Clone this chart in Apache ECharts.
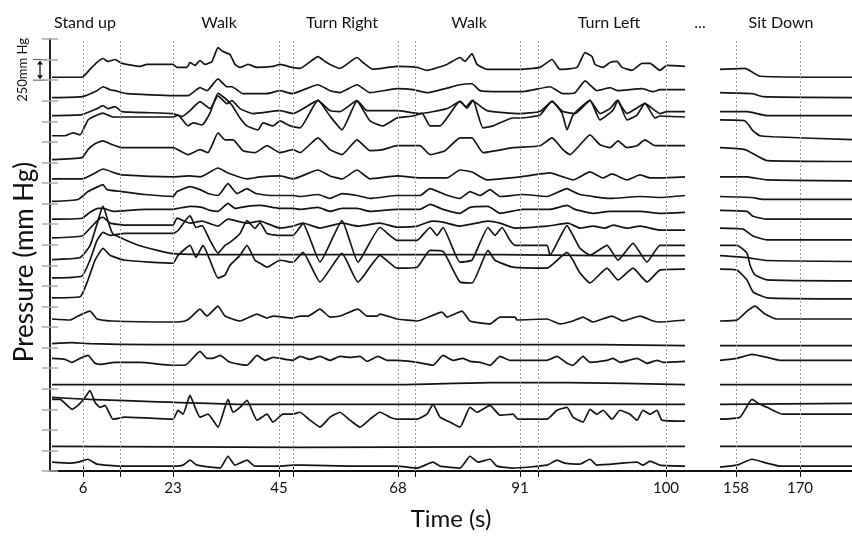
<!DOCTYPE html>
<html>
<head>
<meta charset="utf-8">
<script src="https://cdn.jsdelivr.net/npm/echarts@6/dist/echarts.min.js"></script>
<style>
html, body { margin: 0; padding: 0; background: #fff; }
#chart { width: 852px; height: 536px; }
</style>
</head>
<body>
<div id="chart"></div>
<script>
// display time axis (s); the record is cut between the walk and the sit-down part
var tickTimes = [6.6, 24.6, 45.8, 69.6, 94, 123.2, 137.2, 150];
var tickLabels = ['6', '23', '45', '68', '91', '100', '158', '170'];
var segmentEdges = [6.6, 14, 24.6, 45.8, 48.6, 69.6, 73, 94, 97.6, 123.2, 137.2, 150];
var phaseTimes = [7, 33.8, 58.4, 83.8, 111.8, 130, 146.2];
var phaseNames = ['Stand up', 'Walk', 'Turn Right', 'Walk', 'Turn Left', '...', 'Sit Down'];

// zero level of each sensor channel, mm Hg (stacked from the bottom)
var channelOffsets = [4785, 4550, 4320, 4050, 3785, 3550, 3300, 3060, 2820, 2570,
    2335, 2105, 1835, 1535, 1345, 1050, 810, 630, 300, 95];

// pressure of each channel above its zero, [time, mm Hg]; null = recording gap
var p01 = [[0.4,0],[6.4,0],[8,96],[9.4,180],[10.6,228],[11.6,192],[13,216],[14.4,168],[18,132],[19.4,156],[24.6,156],[25.4,120],[27.4,120],[28,180],[29,144],[30,204],[31,156],[32.4,192],[33.6,360],[34.6,312],[36,276],[37,156],[38,120],[39.6,156],[41.4,120],[44.6,132],[46,156],[48.4,120],[50,108],[53.6,252],[55,192],[56,156],[58,108],[61.4,240],[62.6,180],[64.6,96],[69.4,132],[73.4,120],[75.4,84],[79.4,156],[82,240],[83,192],[84.4,288],[85.4,156],[87.4,96],[94,96],[98,120],[100.4,216],[102,96],[105.4,120],[107,300],[108.4,252],[109,156],[110.6,120],[112,180],[113.4,192],[114.4,120],[116.4,84],[118.4,168],[120,168],[122,84],[123.4,144],[127,132], null, [134,96],[139,108],[142,12],[160.4,0]];
var p02 = [[0.4,-12],[6.4,0],[9.4,72],[10.6,120],[12,84],[13,72],[15.4,36],[24.6,12],[27.6,12],[30,108],[31.4,72],[33.6,216],[35.4,120],[36.4,120],[38.6,36],[43.4,36],[46,72],[48.4,36],[53.6,144],[56,72],[58,48],[61.4,144],[64,48],[69.4,96],[72.6,84],[75.4,48],[82,144],[84.4,156],[86,72],[90,60],[94.6,60],[100,120],[102.6,36],[105,48],[107,192],[109.4,72],[112,108],[113.6,72],[118.4,96],[120.6,60],[122,84],[127,84], null, [134,48],[140.4,36],[142.6,0],[160.4,-12]];
var p03 = [[0.4,0],[6.4,12],[9.4,84],[10.6,120],[11.6,84],[13,108],[14.4,48],[24.6,24],[26.4,-12],[28,60],[30,168],[32,84],[33.6,240],[35.4,144],[36.4,180],[38,84],[40.6,24],[46,60],[48.6,24],[53.6,180],[56,60],[58,48],[61.4,180],[63.4,60],[69.4,60],[74,24],[79.4,84],[82,168],[83.2,108],[84.4,180],[87.4,60],[94,24],[98,48],[100.4,168],[102.6,48],[105,24],[108,180],[110,24],[112,84],[113.4,180],[115.4,24],[119,144],[122,24],[123.4,48],[127,48], null, [134,48],[139.4,48],[143.4,0],[160.4,0]];
var p04 = [[0.4,24],[3,24],[4.6,60],[6,36],[7.6,216],[9,264],[10.6,300],[12.6,252],[24.6,252],[25.6,276],[27.6,144],[28.6,180],[30.4,156],[32,300],[33.6,540],[35,480],[36.4,396],[38,240],[39.4,144],[41.6,96],[42.6,180],[44.6,144],[46,204],[48,144],[50,120],[53.6,456],[56,264],[58.4,96],[61.4,444],[64,204],[66.6,144],[69.4,240],[72.6,264],[74.4,300],[76,144],[78,144],[82,444],[83.4,360],[84.6,456],[86.6,120],[88.6,144],[92.6,240],[94,240],[98,276],[100.4,444],[102.4,300],[103.4,96],[104.6,276],[106,360],[108,456],[110,216],[112.6,336],[113.6,456],[115.4,216],[117.4,276],[119,420],[121,240],[122,264],[127,252], null, [134,216],[139,204],[140.6,84],[142,24],[144.6,12],[160.4,-24]];
var p05 = [[0.4,0],[6.4,24],[7.6,120],[9,192],[10.6,228],[12,192],[14.4,144],[24.6,144],[27.6,60],[30,120],[31.6,84],[33.6,324],[35,240],[36.6,240],[38.6,108],[41,84],[43.4,168],[46,84],[48.6,120],[50,84],[53.6,264],[56,120],[58.4,60],[61.4,240],[64,108],[66.6,120],[69.4,168],[74,168],[76,60],[79,108],[82,264],[84.4,264],[86.6,84],[92.6,144],[98,168],[100.4,264],[102.6,120],[104,60],[106,180],[108,300],[110,180],[112,144],[113.6,228],[115.4,144],[117.4,168],[119,240],[121,168],[127,168], null, [134,144],[139,120],[142,24],[143.4,-12],[160.4,-24]];
var p06 = [[0.4,0],[6.4,0],[9,72],[10.6,120],[13,72],[14.4,48],[24.6,24],[28,36],[30,24],[33.6,132],[35.6,72],[39.4,0],[42,24],[46,36],[48.6,0],[53.6,108],[56,36],[58.4,0],[61.4,108],[64,0],[69.4,36],[74,12],[79.4,12],[82,108],[84.4,84],[87.4,-12],[94,24],[100,72],[102.6,24],[104.6,-12],[108,84],[110.6,12],[112.4,60],[115.4,-12],[118,48],[120,12],[122,12],[127,24], null, [134,24],[139.4,24],[143.4,-12],[160.4,-24]];
var p07 = [[0.4,-24],[5.6,0],[7.6,96],[9.6,156],[10.6,180],[11.4,120],[14.4,96],[19,60],[24.6,36],[25.4,96],[28,156],[30,120],[31.6,72],[33.6,48],[35.6,192],[37.4,72],[39.4,132],[41.2,72],[44,48],[48.6,48],[50,36],[53.6,60],[56,12],[58.4,72],[61.4,48],[64,12],[69.4,48],[74,48],[76,132],[79,60],[82,12],[84,96],[86,48],[88,120],[90,36],[94.6,60],[99.4,36],[103.4,132],[104.6,96],[106,60],[112,12],[118,36],[122,24],[127,48], null, [134,36],[140.4,24],[142.6,0],[160.4,0]];
var p08 = [[0.4,0],[6.4,12],[8,84],[9.6,132],[10.6,132],[12.6,96],[19,120],[24.6,120],[25.6,132],[28,156],[30.4,144],[32,108],[33.6,96],[35.6,192],[37,132],[39.4,156],[42,168],[46,132],[48.6,132],[50,120],[53.6,144],[56,96],[58.4,132],[61.4,132],[64,96],[69.4,120],[74,120],[76,180],[78.6,120],[82,72],[84,144],[87.6,156],[90,72],[94.6,120],[100,120],[103.4,168],[105,120],[108.6,72],[112,96],[118,96],[122,72],[127,84], null, [134,108],[139.4,96],[140.6,36],[143.4,0],[160.4,0]];
var p09 = [[0.4,12],[6.4,36],[8.4,156],[10,252],[10.6,264],[12,192],[15,168],[24.6,168],[25.4,252],[28,192],[30.4,216],[33.6,156],[35.6,240],[39.4,192],[42,216],[46,132],[48.6,156],[50.6,192],[54,132],[58.4,192],[61.6,156],[66,192],[69.4,144],[73.4,156],[76.4,216],[78.6,204],[82,156],[87.6,216],[90,192],[93,132],[99.4,156],[103.6,192],[106,132],[108.6,156],[111,132],[112.6,168],[115.4,132],[118,156],[122,108],[127,108], null, [134,132],[138.6,120],[140.6,36],[143.4,-12],[160.4,-12]];
var p10 = [[0.4,0],[6,24],[8,168],[9.4,432],[10.6,648],[11.6,468],[12.6,312],[18,168],[24.6,72],[36,60],[50,60],[70,60],[90,60],[110,48],[127,48], null, [134,48],[139.4,24],[143.4,-12],[160.4,-24]];
var p11 = [[0.4,12],[6.4,36],[8,228],[9.4,468],[10.6,564],[12,528],[15,552],[24.6,552],[25.6,588],[28,768],[29.2,624],[30.4,648],[32,468],[33.6,312],[35,408],[36,444],[38,552],[39.4,708],[41,612],[42,684],[43.4,552],[46,528],[48.6,528],[50.6,672],[54,204],[58.4,708],[61.6,204],[66,624],[69.4,468],[73.4,468],[76,624],[77.4,528],[78.6,624],[82,204],[84.4,228],[87.6,624],[89,528],[90.4,624],[92,468],[93,408],[99.4,408],[100,288],[103.4,648],[104.6,528],[106,372],[108,288],[111.4,408],[113.6,228],[116.6,432],[119.4,204],[122,408],[127,408], null, [134,408],[137.4,408],[139.4,312],[140,168],[141,48],[143.4,-12],[160.4,-24]];
var p12 = [[0.4,0],[6,12],[7.6,216],[9,456],[10.6,600],[12,516],[15,456],[24.6,420],[25.6,516],[28,636],[29.2,492],[30.6,636],[32,456],[33.6,240],[35,276],[36,396],[38,516],[39.4,636],[41,456],[42,420],[43.4,372],[46,456],[48.6,432],[50.6,552],[54,192],[58.4,540],[61.6,192],[66,516],[69.4,360],[73.4,372],[76,576],[78.6,564],[82,192],[84.4,180],[87.6,576],[89,456],[92.6,372],[99.4,360],[103.4,552],[104.6,456],[106,300],[108,180],[111.4,360],[113.6,216],[116.6,360],[119.4,192],[122,336],[127,348], null, [134,348],[137.4,336],[139.4,216],[140.6,72],[143.4,0],[160.4,-12]];
var p13 = [[0.4,12],[4,0],[5.6,48],[8,108],[9.4,12],[12.4,-12],[24.6,-24],[27,-12],[28,24],[30,132],[31.4,48],[33.6,168],[35,48],[38,-12],[41.4,72],[43.4,24],[44.6,48],[48.6,24],[50,48],[51.6,48],[54,132],[56,36],[58,48],[61.6,132],[63.4,48],[65.4,48],[66,72],[69.4,12],[73.4,-12],[78.4,96],[79.4,36],[82.4,108],[84,-12],[88,-48],[90,36],[93,36],[93.4,0],[99.4,12],[102,-48],[104.6,-12],[106.6,36],[108.6,-24],[112.4,48],[114.6,-12],[118,48],[120.6,-12],[122,-24],[127,0], null, [134,-12],[137.4,0],[139.4,108],[141,168],[143,72],[145.4,12],[160.4,12]];
var p14 = [[0.4,12],[4.4,24],[8,12],[20,0],[50,0],[80,0],[110,0],[127,-12], null, [134,-12],[160.4,-12]];
var p15 = [[0.4,24],[3,12],[4.4,-24],[6,24],[7.6,60],[9,-36],[10,-48],[13,-24],[18,-24],[24.6,-60],[27,-60],[30,108],[31.4,24],[32.6,24],[34,60],[36,-24],[39.4,-60],[41.4,60],[43,0],[44.6,36],[48.6,0],[50,48],[52,12],[54,48],[56,0],[58,48],[60,36],[62,48],[63.4,-12],[65.6,48],[67.4,0],[69.4,0],[73.4,-24],[76.6,-60],[78.6,60],[80.6,0],[82.6,24],[84,-12],[86,-24],[88,-60],[90,48],[92,0],[94,0],[99.4,0],[101.4,48],[103.4,-36],[104.6,-60],[106.6,48],[108,-24],[111.4,0],[112.6,24],[114,-24],[117.4,24],[119.4,-36],[121.4,0],[122.6,-24],[127,-12], null, [134,0],[137.4,24],[140.4,72],[143.4,36],[146,0],[160.4,0]];
var p16 = [[0.4,0],[30,0],[70,0],[88,24],[103.4,24],[127,0], null, [134,0],[160.4,0]];
var p17 = [[0.4,84],[8,60],[39,0],[70,0],[127,0], null, [134,0],[160.4,12]];
var p18 = [[0.4,240],[2,240],[4.4,120],[5.6,168],[7,264],[8,348],[9,204],[10,144],[11,168],[12.6,0],[15,24],[24.6,0],[25.6,108],[26.6,60],[28,288],[29,144],[30,24],[31.6,60],[33.6,-96],[35.6,240],[36.6,84],[38,144],[39.4,228],[41.4,-12],[43.4,60],[44.6,-36],[46.6,60],[48.6,60],[50,84],[52,-12],[54,-96],[56,24],[58,84],[60,-12],[62,-96],[64,0],[66,84],[68,24],[69.4,0],[73.4,0],[75.4,60],[76.6,180],[78,24],[80,-36],[82,-96],[84,144],[85.4,84],[88,168],[90,48],[92.6,60],[93.6,0],[99.4,0],[101.4,108],[103.4,144],[104.6,24],[106.6,-36],[108,120],[109.4,60],[110.6,108],[112.4,0],[114,108],[116,60],[117.4,-12],[118.6,108],[120,60],[121.4,108],[122.4,-12],[127,-24], null, [134,0],[138,24],[140.4,240],[142,180],[143.4,144],[146.6,60],[160.4,60]];
var p19 = [[0.4,0],[50,-12],[127,0], null, [134,0],[160.4,0]];
var p20 = [[0.4,12],[4,0],[5.6,12],[7.6,48],[9.4,-12],[14,-36],[24.6,-36],[26.6,-24],[28,36],[29.4,-24],[34,-60],[35.6,84],[37,-24],[39.4,36],[41,-36],[46,-36],[48.6,-24],[50.6,-24],[60,-36],[69.4,-36],[73.4,-60],[76.6,12],[78,-36],[82,-60],[84,84],[85.6,12],[88,48],[89.4,-36],[92.6,-60],[99.4,-24],[101.4,36],[103,0],[106,-12],[108,48],[109.4,-24],[117.4,12],[118.6,-24],[120,24],[122,-24],[127,-36], null, [134,-48],[137.4,-24],[140.4,48],[143.4,0],[146,-36],[160.4,-36]];

var channels = [p01, p02, p03, p04, p05, p06, p07, p08, p09, p10,
    p11, p12, p13, p14, p15, p16, p17, p18, p19, p20];

var chart = echarts.init(document.getElementById('chart'));

function lineSeries(data) {
    return {
        type: 'line',
        data: data,
        showSymbol: false,
        symbol: 'none',
        smooth: 0.15,
        silent: true,
        animation: false,
        lineStyle: { color: '#151515', width: 1.7 }
    };
}

var series = [];
channels.forEach(function (pts, c) {
    var seg = [];
    pts.forEach(function (p) {
        if (p === null) {
            series.push(lineSeries(seg));
            seg = [];
        } else {
            seg.push([p[0], channelOffsets[c] + p[1]]);
        }
    });
    if (seg.length) series.push(lineSeries(seg));
});

// dotted markers of the phase boundaries
series[0].markLine = {
    silent: true,
    symbol: 'none',
    label: { show: false },
    lineStyle: { color: '#9a9a9a', type: [2, 2], width: 1 },
    data: segmentEdges.map(function (v) { return { xAxis: v }; })
};

var option = {
    animation: false,
    textStyle: { fontFamily: 'Lato' },
    grid: { left: 50, right: 0, top: 39, bottom: 56 },
    xAxis: [{
        type: 'value',
        min: 0,
        max: 160.4,
        position: 'bottom',
        axisLine: { lineStyle: { color: '#111', width: 2 } },
        axisTick: { inside: true, length: 6, customValues: segmentEdges, lineStyle: { color: '#111', width: 1 } },
        axisLabel: {
            customValues: tickTimes,
            margin: 10,
            fontSize: 15,
            color: '#111',
            formatter: function (v) { return tickLabels[tickTimes.indexOf(v)]; }
        },
        splitLine: { show: false },
        name: 'Time (s)',
        nameLocation: 'middle',
        nameGap: 36,
        nameTextStyle: { fontSize: 24, color: '#111' }
    }, {
        type: 'value',
        min: 0,
        max: 160.4,
        position: 'top',
        axisLine: { lineStyle: { color: '#111', width: 2 } },
        axisTick: { inside: true, length: 6, customValues: segmentEdges, lineStyle: { color: '#111', width: 1 } },
        axisLabel: {
            customValues: phaseTimes,
            margin: 8,
            fontSize: 16,
            color: '#111',
            formatter: function (v) { return phaseNames[phaseTimes.indexOf(v)]; }
        },
        splitLine: { show: false }
    }],
    yAxis: [{
        type: 'value',
        min: 0,
        max: 5250,
        interval: 250,
        position: 'left',
        axisLine: { show: true, lineStyle: { color: '#222', width: 2 } },
        axisTick: { show: true, inside: true, length: 8, lineStyle: { color: '#aaa', width: 1.5 } },
        axisLabel: { show: false },
        splitLine: { show: false },
        name: 'Pressure (mm Hg)',
        nameLocation: 'middle',
        nameGap: 12,
        nameTextStyle: { fontSize: 26, color: '#111', padding: [0, 14, 0, 0] }
    }, {
        type: 'value',
        min: 0,
        max: 5250,
        interval: 250,
        position: 'right',
        axisLine: { show: false },
        axisTick: { show: true, inside: true, length: 8, lineStyle: { color: '#aaa', width: 1.5 } },
        axisLabel: { show: false },
        splitLine: { show: false }
    }],
    series: series
};
chart.setOption(option);

// 250 mm Hg scale bar next to the top channel
var yTop = chart.convertToPixel({ yAxisIndex: 0 }, 5000);
var yBot = chart.convertToPixel({ yAxisIndex: 0 }, 4750);
var xBar = chart.convertToPixel({ xAxisIndex: 0 }, 0) - 10;
chart.setOption({
    graphic: [
        { type: 'line', shape: { x1: xBar - 7, y1: yTop, x2: xBar + 7, y2: yTop }, style: { stroke: '#555', lineWidth: 1 } },
        { type: 'line', shape: { x1: xBar - 7, y1: yBot, x2: xBar + 7, y2: yBot }, style: { stroke: '#555', lineWidth: 1 } },
        { type: 'line', shape: { x1: xBar, y1: yTop + 3, x2: xBar, y2: yBot - 3 }, style: { stroke: '#111', lineWidth: 1.2 } },
        { type: 'polygon', shape: { points: [[xBar - 3, yTop + 5], [xBar + 3, yTop + 5], [xBar, yTop + 1]] }, style: { fill: '#111' } },
        { type: 'polygon', shape: { points: [[xBar - 3, yBot - 5], [xBar + 3, yBot - 5], [xBar, yBot - 1]] }, style: { fill: '#111' } },
        {
            type: 'text',
            x: xBar - 17,
            y: (yTop + yBot) / 2,
            rotation: Math.PI / 2,
            style: { text: '250mm Hg', fontSize: 13, fontFamily: 'Lato', fill: '#111', align: 'center', verticalAlign: 'middle' }
        }
    ]
});
</script>
</body>
</html>
